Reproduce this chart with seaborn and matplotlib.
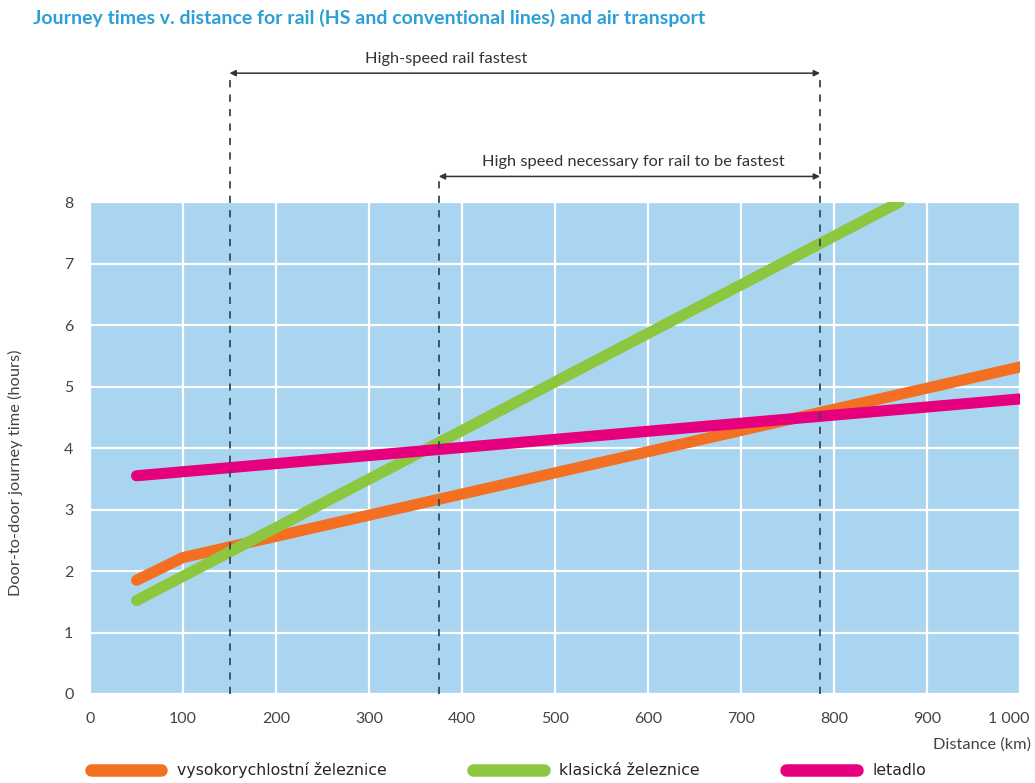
import matplotlib
matplotlib.use("Agg")
import matplotlib.pyplot as plt
import matplotlib.transforms as mtransforms
import seaborn as sns
import pandas as pd
from matplotlib.lines import Line2D

# Door-to-door journey time (hours) by distance (km)
hs_km = [50, 100, 1000]
hs_hours = [1.85, 2.22, 5.32]
classic_km = [50, 870]
classic_hours = [1.52, 8.0]
air_km = [50, 1000]
air_hours = [3.55, 4.8]

series_names = ["vysokorychlostní železnice", "klasická železnice", "letadlo"]
series_colors = ["#f36f21", "#8dc63f", "#e6007e"]

# Break-even distances (km)
hs_fastest_from = 150
hs_needed_from = 375
hs_fastest_to = 785

x_ticks = [0, 100, 200, 300, 400, 500, 600, 700, 800, 900, 1000]
x_tick_labels = ["0", "100", "200", "300", "400", "500", "600", "700", "800", "900", "1 000"]
y_ticks = [0, 1, 2, 3, 4, 5, 6, 7, 8]

df = pd.concat([
    pd.DataFrame({"km": hs_km, "hours": hs_hours, "mode": series_names[0]}),
    pd.DataFrame({"km": classic_km, "hours": classic_hours, "mode": series_names[1]}),
    pd.DataFrame({"km": air_km, "hours": air_hours, "mode": series_names[2]}),
])

sns.set_theme(style="white")
plt.rcParams["font.family"] = ["Lato", "DejaVu Sans"]

text_color = "#444444"
fig = plt.figure(figsize=(10.35, 7.83), dpi=100)
ax = fig.add_axes([0.087, 0.1137, 0.8985, 0.628])
ax.set_facecolor("#a9d5f1")

sns.lineplot(data=df, x="km", y="hours", hue="mode", palette=dict(zip(series_names, series_colors)),
             hue_order=series_names, linewidth=8, solid_capstyle="round", legend=False,
             ax=ax, zorder=3)

ax.set_xlim(0, 1000)
ax.set_ylim(0, 8)
ax.set_xticks(x_ticks)
ax.set_xticklabels(x_tick_labels)
ax.set_yticks(y_ticks)
ax.grid(True, color="white", linewidth=1.6, zorder=1)
ax.set_axisbelow(True)
for s in ax.spines.values():
    s.set_visible(False)
ax.tick_params(axis="both", length=0, labelsize=11.5, labelcolor=text_color)
ax.tick_params(axis="x", pad=13)
ax.tick_params(axis="y", pad=12)
last = ax.get_xticklabels()[-1]
last.set_ha("right")
last.set_transform(last.get_transform() + mtransforms.ScaledTranslation(0.1, 0, fig.dpi_scale_trans))
ax.set_xlabel("")
ax.set_ylabel("Door-to-door journey time (hours)", fontsize=11.8, color=text_color)
ax.yaxis.set_label_coords(-0.072, 0.45)
ax.text(1.012, -0.103, "Distance (km)", transform=ax.transAxes, ha="right", va="center",
        fontsize=11.8, color=text_color)

# Dashed guides and range arrows above the plot
dash_kw = dict(color="#34495e", linestyle=(0, (4, 4)), linewidth=1.3, clip_on=False, zorder=4)
top_y = 10.1
mid_y = 8.42
ax.plot([hs_fastest_from, hs_fastest_from], [0, top_y], **dash_kw)
ax.plot([hs_fastest_to, hs_fastest_to], [0, top_y], **dash_kw)
ax.plot([hs_needed_from, hs_needed_from], [0, mid_y], **dash_kw)

arrow_kw = dict(arrowstyle="<|-|>", color="#333333", lw=1.1, mutation_scale=9, shrinkA=0, shrinkB=0)
ax.annotate("", xy=(hs_fastest_from, top_y), xytext=(hs_fastest_to, top_y),
            arrowprops=arrow_kw, annotation_clip=False)
ax.annotate("", xy=(hs_needed_from, mid_y), xytext=(hs_fastest_to, mid_y),
            arrowprops=arrow_kw, annotation_clip=False)
ax.text(383, top_y + 0.12, "High-speed rail fastest", ha="center", va="bottom",
        fontsize=11.8, color="#333333", clip_on=False)
ax.text(584, mid_y + 0.12, "High speed necessary for rail to be fastest", ha="center", va="bottom",
        fontsize=11.8, color="#333333", clip_on=False)

fig.text(0.032, 0.977, "Journey times v. distance for rail (HS and conventional lines) and air transport",
         ha="left", va="center", fontsize=14, fontweight="bold", color="#2b9fd8")

# Legend along the bottom
handles = [Line2D([0], [0], color=c, linewidth=9, solid_capstyle="round") for c in series_colors]
leg = fig.legend(handles, series_names, loc="center left", bbox_to_anchor=(0.074, 0.016), ncol=3,
                 frameon=False, handlelength=4.5, handletextpad=1.0, columnspacing=5.5,
                 prop={"family": "DejaVu Sans", "size": 11.3})

fig.savefig("out.png", dpi=100, facecolor="white")
